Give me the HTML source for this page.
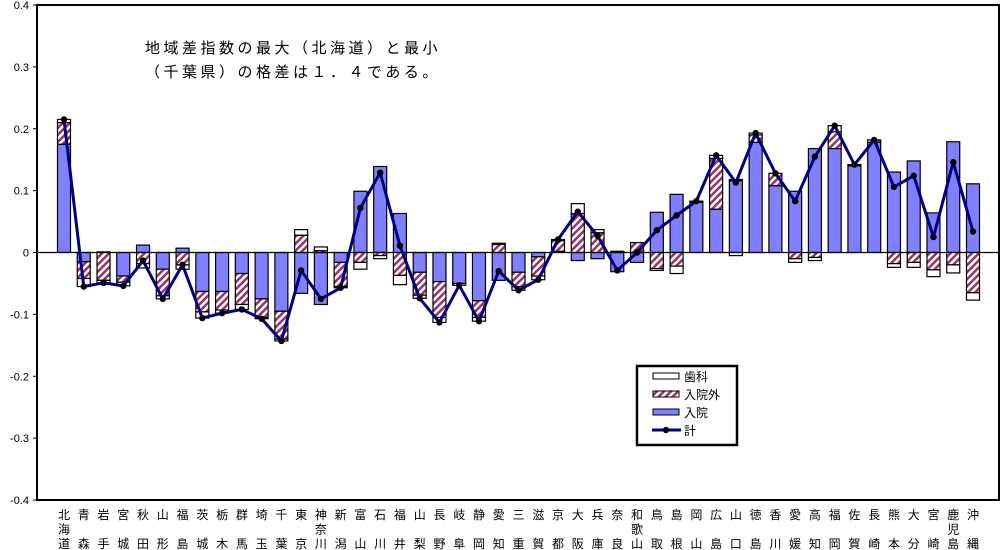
<!DOCTYPE html>
<html><head><meta charset="utf-8">
<style>
body{margin:0;background:#fff;}
svg{display:block;font-family:"Liberation Sans","Noto Sans CJK JP",sans-serif;}
</style></head>
<body>
<svg id="chart" width="1005" height="550" viewBox="0 0 1005 550">
<defs>
<pattern id="hatch" patternUnits="userSpaceOnUse" width="5" height="5" patternTransform="rotate(45)">
<rect width="5" height="5" fill="#fff"/>
<rect width="2.5" height="5" fill="#993366"/>
</pattern>
</defs>
<rect x="37" y="5" width="962" height="495" fill="#fff" stroke="#000" stroke-width="2"/>
<g id="yaxis"></g>
<g id="bars"></g>
<g id="line"></g>
<g id="xlabels"></g>
<text x="145" y="53" font-size="15" letter-spacing="3.5">地域差指数の最大（北海道）と最小</text>
<text x="145" y="77" font-size="15" letter-spacing="3.5">（千葉県）の格差は１．４である。</text>
<g>
<rect x="637" y="366" width="100" height="79" fill="#fff" stroke="#000" stroke-width="2.5"/>
<rect x="653" y="373" width="26" height="6" fill="#fff" stroke="#000"/>
<text x="684" y="381" font-size="12">歯科</text>
<rect x="653" y="391" width="26" height="6" fill="url(#hatch)" stroke="#000"/>
<text x="684" y="399" font-size="12">入院外</text>
<rect x="653" y="409" width="26" height="6" fill="#8080ff" stroke="#000"/>
<text x="684" y="417" font-size="12">入院</text>
<line x1="652" y1="430" x2="681" y2="430" stroke="#000080" stroke-width="3"/>
<circle cx="666" cy="430" r="3.2" fill="#000"/>
<text x="684" y="435" font-size="12">計</text>
</g>
</svg>
<script>
const prefs=["北海道","青森","岩手","宮城","秋田","山形","福島","茨城","栃木","群馬","埼玉","千葉","東京","神奈川","新潟","富山","石川","福井","山梨","長野","岐阜","静岡","愛知","三重","滋賀","京都","大阪","兵庫","奈良","和歌山","鳥取","島根","岡山","広島","山口","徳島","香川","愛媛","高知","福岡","佐賀","長崎","熊本","大分","宮崎","鹿児島","沖縄"];
const inpatient=[0.175,-0.015,0.001,-0.038,0.012,-0.027,0.007,-0.063,-0.063,-0.034,-0.075,-0.095,-0.066,-0.084,-0.016,0.099,0.139,0.063,-0.032,-0.047,-0.050,-0.078,-0.045,-0.032,-0.007,0.002,-0.013,-0.010,-0.031,-0.016,0.065,0.094,0.081,0.070,0.116,0.178,0.108,0.099,0.168,0.168,0.140,0.178,0.130,0.148,0.064,0.179,0.111];
const outpatient=[0.035,-0.027,-0.045,-0.010,-0.018,-0.043,-0.020,-0.033,-0.030,-0.050,-0.030,-0.045,0.028,0.003,-0.039,-0.016,-0.005,-0.037,-0.037,-0.058,-0.003,-0.027,0.013,-0.023,-0.031,0.017,0.063,0.032,0.002,0.016,-0.026,-0.022,0.002,0.082,0.002,0.012,0.020,-0.010,-0.008,0.027,0.002,0.004,-0.018,-0.016,-0.028,-0.020,-0.065];
const dental=[0.005,-0.013,-0.005,-0.006,-0.007,-0.005,-0.007,-0.010,-0.005,-0.008,-0.002,-0.003,0.009,0.006,-0.002,-0.011,-0.005,-0.015,-0.005,-0.008,0.000,-0.006,0.002,-0.006,-0.006,0.002,0.016,0.005,0.000,0.000,-0.003,-0.012,0.000,0.005,-0.005,0.003,0.000,-0.006,-0.005,0.010,0.000,0.000,-0.006,-0.008,-0.011,-0.013,-0.012];
const yTicks=["0.4","0.3","0.2","0.1","0","-0.1","-0.2","-0.3","-0.4"];
const NS="http://www.w3.org/2000/svg";
const x0=37,x1=999,yTop=5,yBot=500,vMax=0.4,vMin=-0.4;
const firstX=64,lastX=973;
const yS=v=>yTop+(vMax-v)/(vMax-vMin)*(yBot-yTop);
const step=(lastX-firstX)/(prefs.length-1);
const xS=i=>firstX+step*i;
const bw=13;
function mk(tag,attrs,parent){const e=document.createElementNS(NS,tag);for(const k in attrs)e.setAttribute(k,attrs[k]);parent.appendChild(e);return e;}
const yg=document.getElementById('yaxis');
yTicks.forEach(t=>{const v=parseFloat(t);const y=yS(v);
 const tk=mk('line',{x1:33,y1:y,x2:37,y2:y,stroke:'#000','stroke-width':1},yg);
 
 
 const tx=mk('text',{x:29,y:y+4,'font-size':11,'text-anchor':'end'},yg);tx.textContent=t;
 
 
});
const bg=document.getElementById('bars');
const series=[[inpatient,'#8080ff','inpatient'],[outpatient,'url(#hatch)','outpatient'],[dental,'#fff','dental']];
prefs.forEach((p,i)=>{let pos=0,neg=0;
 series.forEach(([arr,fill,nm])=>{const v=arr[i];if(v===0)return;
  let a,b;if(v>0){a=pos;b=pos+v;pos=b;}else{a=neg;b=neg+v;neg=b;}
  const ya=yS(Math.max(a,b)),yb=yS(Math.min(a,b));
  const r=mk('rect',{x:xS(i)-bw/2,y:ya,width:bw,height:Math.max(yb-ya,0.5),fill:fill,stroke:'#000','stroke-width':1.2},bg);
  
  
 });
});
mk('line',{x1:x0,y1:yS(0),x2:x1,y2:yS(0),stroke:'#000','stroke-width':1.2},bg);
const lg=document.getElementById('line');
const totals=prefs.map((p,i)=>inpatient[i]+outpatient[i]+dental[i]);
const pl=mk('polyline',{points:totals.map((v,i)=>xS(i)+','+yS(v)).join(' '),fill:'none',stroke:'#000080','stroke-width':3,'stroke-linejoin':'round'},lg);


totals.forEach((v,i)=>{const c=mk('circle',{cx:xS(i),cy:yS(v),r:3.2,fill:'#000'},lg);
 
 
});
const xg=document.getElementById('xlabels');
prefs.forEach((p,i)=>{const ch=[...p];const rows=ch.length===3?[0,1,2]:[0,2];
 const g=mk('g',{},xg);
 
 
 ch.forEach((c,k)=>{const t=mk('text',{x:xS(i),y:519+rows[k]*14.5,'font-size':12,'text-anchor':'middle'},g);t.textContent=c;});
});
</script>
</body></html>
